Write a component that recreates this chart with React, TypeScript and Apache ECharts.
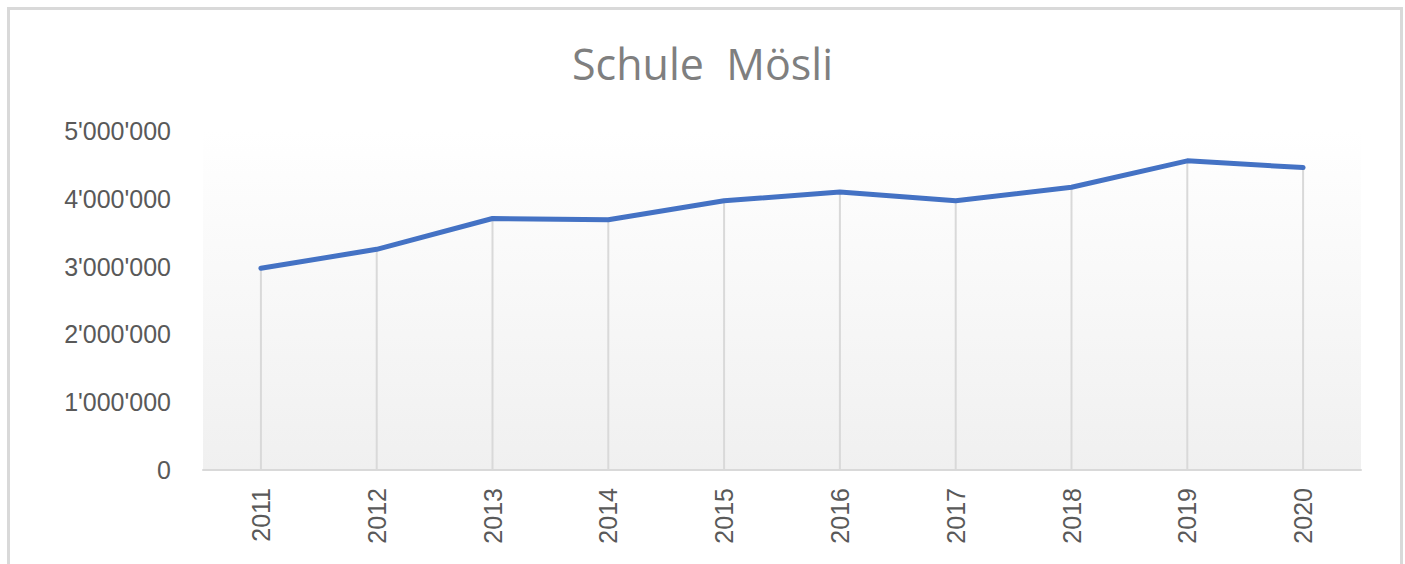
import React, { useEffect, useRef } from "react";
import * as echarts from "echarts";

const titleText = "Schule  Mösli";
const years = ["2011", "2012", "2013", "2014", "2015", "2016", "2017", "2018", "2019", "2020"];
const values = [2975000, 3255000, 3710000, 3690000, 3970000, 4100000, 3970000, 4170000, 4560000, 4460000];
const yMin = 0;
const yMax = 5000000;
const yStep = 1000000;

function fmt(v: number): string {
  const s = Math.round(v).toString();
  return s.replace(/\B(?=(\d{3})+(?!\d))/g, "'");
}

export default function App() {
  const ref = useRef<HTMLDivElement>(null);
  useEffect(() => {
    if (!ref.current) return;
    const chart = echarts.init(ref.current, undefined, { renderer: "svg" });
    chart.setOption({
      animation: false,
      backgroundColor: "#ffffff",
      title: {
        text: titleText,
        left: "center",
        top: 37,
        textStyle: {
          fontFamily: "Open Sans",
          fontSize: 43,
          fontWeight: "normal",
          color: "#7f7f7f",
        },
      },
      graphic: [
        {
          type: "rect",
          shape: { x: 8.5, y: 8.5, width: 1393, height: 640 },
          style: { fill: "none", stroke: "#d9d9d9", lineWidth: 3 },
          silent: true,
          z: 100,
        },
      ],
      grid: {
        left: 203,
        right: 44,
        top: 131,
        bottom: 94,
        show: true,
        borderWidth: 0,
        backgroundColor: new echarts.graphic.LinearGradient(0, 0, 0, 1, [
          { offset: 0, color: "#ffffff" },
          { offset: 1, color: "#f0f0f0" },
        ]),
      },
      xAxis: {
        type: "category",
        data: years,
        boundaryGap: true,
        axisLine: { show: true, lineStyle: { color: "#d9d9d9", width: 2 } },
        axisTick: { show: false },
        splitLine: { show: false },
        axisLabel: {
          rotate: 90,
          margin: 18,
          color: "#595959",
          fontFamily: "Liberation Sans",
          fontSize: 25,
        },
      },
      yAxis: {
        type: "value",
        min: yMin,
        max: yMax,
        interval: yStep,
        axisLine: { show: false },
        axisTick: { show: false },
        splitLine: { show: false },
        axisLabel: {
          margin: 32,
          color: "#595959",
          fontFamily: "Liberation Sans",
          fontSize: 25,
          formatter: (v: number) => fmt(v),
        },
      },
      series: [
        {
          type: "bar",
          data: values,
          barWidth: 2,
          itemStyle: { color: "#d9d9d9" },
          z: 1,
          silent: true,
        },
        {
          type: "line",
          data: values,
          showSymbol: false,
          symbol: "none",
          lineStyle: { color: "#4472c4", width: 5, cap: "round", join: "round" },
          z: 3,
        },
      ],
    });
    return () => chart.dispose();
  }, []);
  return (
    <div
      ref={ref}
      style={{ position: "absolute", left: 0, top: 0, width: 1405, height: 564 }}
    />
  );
}
